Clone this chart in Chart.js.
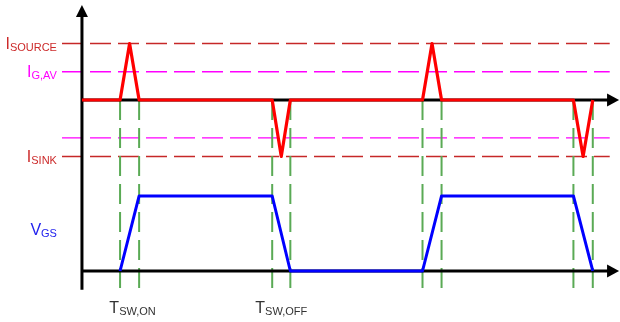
<!DOCTYPE html>
<html>
<head>
<meta charset="utf-8">
<script src="https://cdn.jsdelivr.net/npm/chart.js@4"></script>
<style>
  html, body { margin: 0; background: #fff; }
  #wrap { width: 620px; height: 322px; position: relative; }
</style>
</head>
<body>
<div id="wrap"><canvas id="c"></canvas></div>
<script>
// switching instants, arbitrary time units (one period = 100)
const tOnStart  = [12.6, 112.6];
const tOnEnd    = [18.9, 118.9];
const tOffStart = [62.9, 162.5];
const tOffEnd   = [68.9, 168.9];

// gate current levels, normalised to I_SOURCE
const iSource = 1;
const iGav    = 0.5;
const iGavNeg = -0.67;
const iSink   = -1;
// gate voltage, normalised
const vgsHigh = 1;

// extents
const tDashFrom = -6.6, tDashTo = 174.5;   // dashed reference lines
const tAxisEnd  = 177.6;                    // arrow tips of the time axes
const iAxisTop  = 1.68, iAxisBottom = -3.36; // vertical axis, in current units
const iGreenBottom = -3.36;

const RED = '#ff0000', BLUE = '#0000ff', MAG = '#ff00ff', DRED = '#c62828', GREEN = '#5aaa55';
const FONT = '"Liberation Sans", Arial, sans-serif';

const mid = (a, b) => (a + b) / 2;

const iWave = [{ x: 0, y: 0 }];
const vWave = [];
tOnStart.forEach((_, k) => {
  iWave.push({ x: tOnStart[k], y: 0 }, { x: mid(tOnStart[k], tOnEnd[k]), y: iSource }, { x: tOnEnd[k], y: 0 },
             { x: tOffStart[k], y: 0 }, { x: mid(tOffStart[k], tOffEnd[k]), y: iSink }, { x: tOffEnd[k], y: 0 });
  vWave.push({ x: tOnStart[k], y: 0 }, { x: tOnEnd[k], y: vgsHigh },
             { x: tOffStart[k], y: vgsHigh }, { x: tOffEnd[k], y: 0 });
});

const hDash = (lvl, color) => ({
  data: [{ x: tDashFrom, y: lvl }, { x: tDashTo, y: lvl }], yAxisID: 'yI',
  borderColor: color, borderWidth: 1.4, borderDash: [21, 7], order: 6,
});
const vDash = t => ({
  data: [{ x: t, y: 0 }, { x: t, y: iGreenBottom }], yAxisID: 'yI',
  borderColor: GREEN, borderWidth: 2, borderDash: [20, 8], order: 5,
});
const switchTimes = [...tOnStart, ...tOnEnd, ...tOffStart, ...tOffEnd];

const datasets = [
  hDash(iSource, DRED), hDash(iGav, MAG), hDash(iGavNeg, MAG), hDash(iSink, DRED),
  ...switchTimes.map(vDash),
  { data: [{ x: 0, y: iAxisBottom }, { x: 0, y: iAxisTop - 0.1 }], yAxisID: 'yI', borderColor: '#000', borderWidth: 3, order: 4 },
  { data: [{ x: 0, y: 0 }, { x: tAxisEnd - 3, y: 0 }], yAxisID: 'yI', borderColor: '#000', borderWidth: 3, order: 4 },
  { data: [{ x: 0, y: 0 }, { x: tAxisEnd - 3, y: 0 }], yAxisID: 'yV', borderColor: '#000', borderWidth: 3, order: 4 },
  { data: vWave, yAxisID: 'yV', borderColor: BLUE, borderWidth: 3, order: 2 },
  { data: iWave, yAxisID: 'yI', borderColor: RED, borderWidth: 3.2, order: 1 },
];

function subText(ctx, main, sub, x, y, align, color) {
  ctx.save();
  ctx.fillStyle = color;
  ctx.textBaseline = 'alphabetic';
  ctx.font = '16px ' + FONT;
  const w1 = ctx.measureText(main).width;
  ctx.font = '11px ' + FONT;
  const w2 = ctx.measureText(sub).width;
  let x0 = align === 'right' ? x - w1 - w2 : align === 'center' ? x - (w1 + w2) / 2 : x;
  ctx.font = '16px ' + FONT;
  ctx.textAlign = 'left';
  ctx.fillText(main, x0, y);
  ctx.font = '11px ' + FONT;
  ctx.fillText(sub, x0 + w1, y + 2);
  ctx.restore();
}

const decor = {
  id: 'decor',
  afterDatasetsDraw(chart) {
    const { ctx, scales: { x, yI, yV } } = chart;
    const ax = x.getPixelForValue(0);
    ctx.save();
    ctx.fillStyle = '#000';
    // arrow heads
    const top = yI.getPixelForValue(iAxisTop);
    ctx.beginPath(); ctx.moveTo(ax, top); ctx.lineTo(ax - 6, top + 12); ctx.lineTo(ax + 6, top + 12); ctx.fill();
    const tip = x.getPixelForValue(tAxisEnd);
    [yI.getPixelForValue(0), yV.getPixelForValue(0)].forEach(py => {
      ctx.beginPath(); ctx.moveTo(tip, py); ctx.lineTo(tip - 12, py - 6.5); ctx.lineTo(tip - 12, py + 6.5); ctx.fill();
    });
    ctx.restore();
    const lx = ax - 25;
    subText(ctx, 'I', 'SOURCE', lx, yI.getPixelForValue(iSource) + 5, 'right', '#cc2a2a');
    subText(ctx, 'I', 'G,AV', lx, yI.getPixelForValue(iGav) + 5, 'right', MAG);
    subText(ctx, 'I', 'SINK', lx, yI.getPixelForValue(iSink) + 5, 'right', '#cc2a2a');
    subText(ctx, 'V', 'GS', lx, yV.getPixelForValue(vgsHigh) + 39, 'right', '#2222ee');
    subText(ctx, 'T', 'SW,ON', x.getPixelForValue(mid(tOnStart[0], tOnEnd[0])) + 3, 313, 'center', '#333');
    subText(ctx, 'T', 'SW,OFF', x.getPixelForValue(mid(tOffStart[0], tOffEnd[0])), 313, 'center', '#333');
  }
};

new Chart(document.getElementById('c'), {
  type: 'line',
  data: { datasets },
  options: {
    responsive: true, maintainAspectRatio: false, animation: false,
    layout: { padding: 0 },
    elements: { point: { radius: 0 }, line: { tension: 0, fill: false, borderCapStyle: 'butt', borderJoinStyle: 'round' } },
    datasets: { line: { clip: false } },
    plugins: { legend: { display: false }, tooltip: { enabled: false } },
    scales: {
      x:  { type: 'linear', min: -27.1, max: 177.9, display: false },
      yI: { type: 'linear', min: -3.929, max: 1.770, display: false },
      yV: { type: 'linear', min: -0.68, max: 3.613, display: false },
    },
  },
  plugins: [decor],
});
</script>
</body>
</html>
